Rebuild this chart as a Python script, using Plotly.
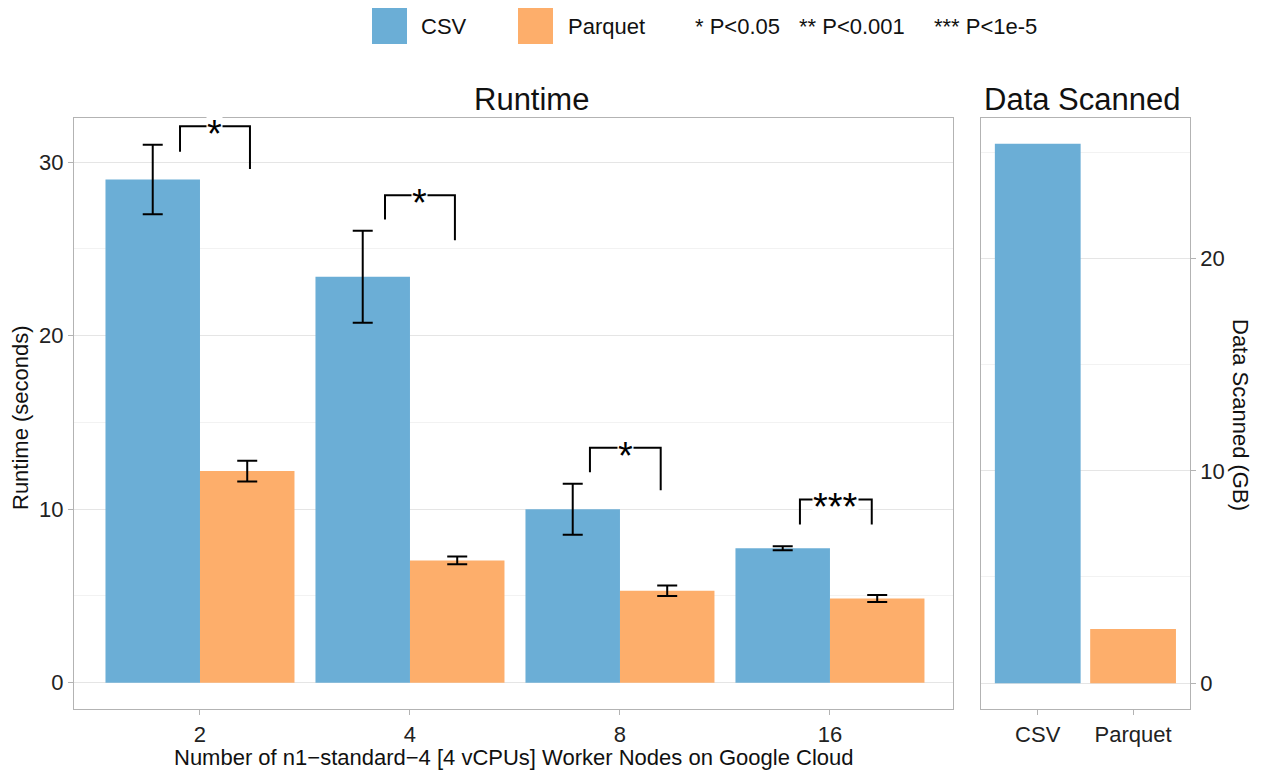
import plotly.graph_objects as go

# ---------------- data ----------------
nodes = ["2", "4", "8", "16"]
csv_mean = [29.0, 23.4, 10.0, 7.75]
csv_err = [2.0, 2.65, 1.47, 0.12]
parquet_mean = [12.2, 7.05, 5.3, 4.85]
parquet_err = [0.6, 0.22, 0.3, 0.2]

formats = ["CSV", "Parquet"]
scanned_gb = [25.4, 2.55]

sig_labels = ["*", "*", "*", "***"]
sig_left = [-0.095, -0.119, -0.143, -0.143]
sig_right = [0.238, 0.214, 0.194, 0.199]
sig_top = [32.07, 28.1, 13.54, 10.56]
sig_left_bottom = [30.6, 26.7, 12.13, 9.12]
sig_right_bottom = [29.6, 25.5, 11.1, 9.12]

legend_notes = ["* P<0.05", "** P<0.001", "*** P<1e-5"]

BLUE = "#6BAED6"
ORANGE = "#FDAE6B"
FONT = "Liberation Sans, Arial, sans-serif"
GRID = "#e5e5e5"
MINOR = "#f2f2f2"
AXIS = "#b3b3b3"
W, H = 1269, 774

fig = go.Figure()
xpos = list(range(len(nodes)))
fig.add_trace(go.Bar(x=xpos, y=csv_mean, name="CSV", marker=dict(color=BLUE, line=dict(width=0)),
                     error_y=dict(type="data", array=csv_err, color="black", thickness=2, width=10),
                     xaxis="x", yaxis="y", showlegend=False))
fig.add_trace(go.Bar(x=xpos, y=parquet_mean, name="Parquet", marker=dict(color=ORANGE, line=dict(width=0)),
                     error_y=dict(type="data", array=parquet_err, color="black", thickness=2, width=10),
                     xaxis="x", yaxis="y", showlegend=False))
fig.add_trace(go.Bar(x=[0, 1], y=scanned_gb, marker=dict(color=[BLUE, ORANGE], line=dict(width=0)),
                     xaxis="x2", yaxis="y2", showlegend=False, width=0.9))

shapes = []
annotations = []
for i, lab in enumerate(sig_labels):
    xl, xr = i + sig_left[i], i + sig_right[i]
    shapes.append(dict(type="path", xref="x", yref="y",
                       path=f"M {xl},{sig_left_bottom[i]} L {xl},{sig_top[i]} L {xr},{sig_top[i]} L {xr},{sig_right_bottom[i]}",
                       line=dict(color="black", width=2)))
    annotations.append(dict(x=(xl + xr) / 2, y=sig_top[i], xref="x", yref="y", text=lab, showarrow=False,
                            font=dict(family=FONT, size=38, color="black"), bgcolor="white",
                            borderpad=0, yanchor="middle", yshift=-8))

def px(x):
    return x / W

def py(y):
    return 1 - y / H

# custom legend
shapes.append(dict(type="rect", xref="paper", yref="paper", x0=px(372), x1=px(407), y0=py(44), y1=py(8),
                   fillcolor=BLUE, line=dict(width=0)))
shapes.append(dict(type="rect", xref="paper", yref="paper", x0=px(518), x1=px(553), y0=py(44), y1=py(8),
                   fillcolor=ORANGE, line=dict(width=0)))
for txt, x0 in [("CSV", 419), ("Parquet", 566)] + list(zip(legend_notes, [693, 797, 932])):
    annotations.append(dict(x=px(x0), y=py(27), xref="paper", yref="paper", text=txt, showarrow=False,
                            xanchor="left", yanchor="middle", font=dict(family=FONT, size=22, color="#111")))

# titles
annotations.append(dict(x=px(531.7), y=py(99), xref="paper", yref="paper", text="Runtime", showarrow=False,
                        xanchor="center", yanchor="middle", font=dict(family=FONT, size=31, color="#111")))
annotations.append(dict(x=px(1082), y=py(99), xref="paper", yref="paper", text="Data Scanned", showarrow=False,
                        xanchor="center", yanchor="middle", font=dict(family=FONT, size=31, color="#111")))
annotations.append(dict(x=px(20), y=py(418), xref="paper", yref="paper", text="Runtime (seconds)", showarrow=False,
                        textangle=-90, xanchor="center", yanchor="middle", font=dict(family=FONT, size=22, color="#111")))
annotations.append(dict(x=px(1241), y=py(415), xref="paper", yref="paper", text="Data Scanned (GB)", showarrow=False,
                        textangle=90, xanchor="center", yanchor="middle", font=dict(family=FONT, size=22, color="#111")))
annotations.append(dict(x=px(514), y=py(757), xref="paper", yref="paper",
                        text="Number of n1\u2212standard\u22124 [4 vCPUs] Worker Nodes on Google Cloud", showarrow=False,
                        xanchor="center", yanchor="middle", font=dict(family=FONT, size=22, color="#111")))

tickfont = dict(family=FONT, size=22, color="#222")
common_axis = dict(showline=True, linecolor=AXIS, linewidth=1.3, mirror=True, ticks="outside",
                   tickcolor=AXIS, ticklen=5, tickwidth=1.3, tickfont=tickfont, zeroline=False)

fig.update_layout(
    width=W, height=H, margin=dict(l=0, r=0, t=0, b=0),
    paper_bgcolor="white", plot_bgcolor="white",
    barmode="group", bargap=0.1, bargroupgap=0,
    xaxis=dict(domain=[0.0583, 0.7510], range=[-0.6, 3.586], tickmode="array", tickvals=xpos, ticktext=nodes,
               showgrid=False, anchor="y", **common_axis),
    yaxis=dict(domain=[0.0836, 0.8472], range=[-1.53, 32.53], tickmode="array", tickvals=[0, 10, 20, 30],
               showgrid=True, gridcolor=GRID, gridwidth=1,
               minor=dict(tickmode="array", tickvals=[5, 15, 25], showgrid=True, gridcolor=MINOR, ticklen=0),
               anchor="x", **common_axis),
    xaxis2=dict(domain=[0.7730, 0.9375], range=[-0.596, 1.594], tickmode="array", tickvals=[0, 1], ticktext=formats,
                showgrid=False, anchor="y2", **common_axis),
    yaxis2=dict(domain=[0.0836, 0.8472], range=[-1.23, 26.6], tickmode="array", tickvals=[0, 10, 20],
                side="right", showgrid=True, gridcolor=GRID, gridwidth=1,
                minor=dict(tickmode="array", tickvals=[5, 15, 25], showgrid=True, gridcolor=MINOR, ticklen=0),
                anchor="x2", **common_axis),
    shapes=shapes, annotations=annotations,
)

fig.write_html("out.html")
